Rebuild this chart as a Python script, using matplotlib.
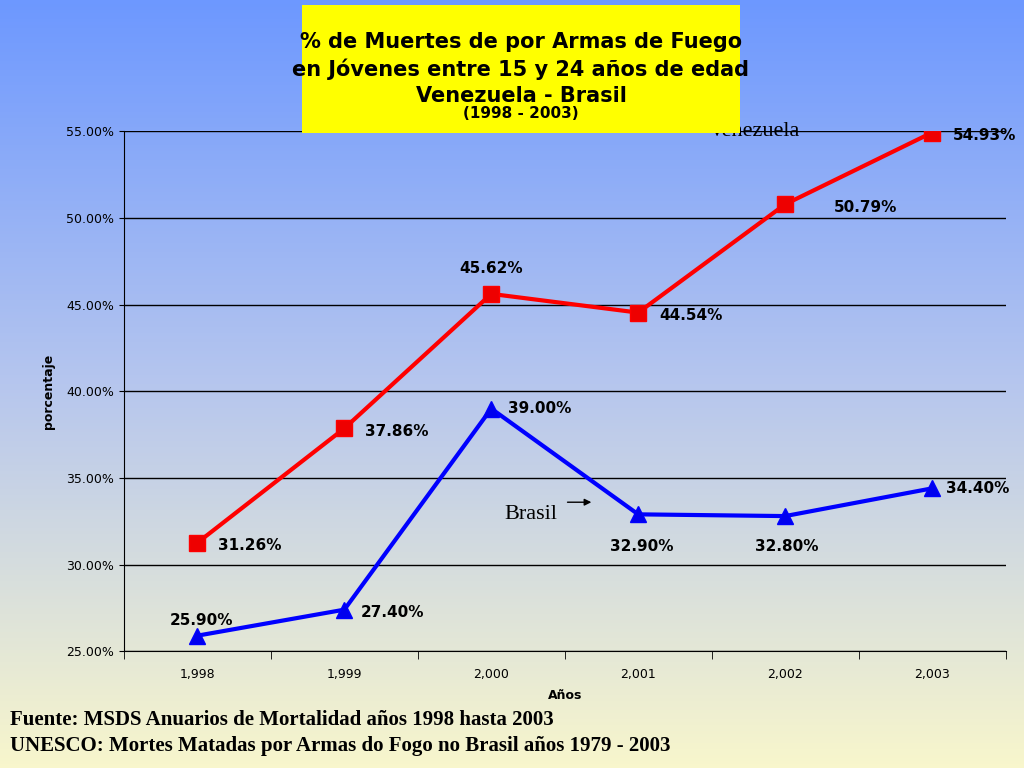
import matplotlib
matplotlib.use("Agg")
import matplotlib.pyplot as plt
import numpy as np
from matplotlib.colors import LinearSegmentedColormap

years = ["1,998", "1,999", "2,000", "2,001", "2,002", "2,003"]
venezuela = [31.26, 37.86, 45.62, 44.54, 50.79, 54.93]
brasil = [25.90, 27.40, 39.00, 32.90, 32.80, 34.40]
yticks = [25, 30, 35, 40, 45, 50, 55]

fig = plt.figure(figsize=(10.24, 7.68), dpi=100)
bg = fig.add_axes([0, 0, 1, 1], zorder=-10)
cmap = LinearSegmentedColormap.from_list("g", ["#f8f6cc", "#b6c6ee", "#6d98ff"])
bg.imshow(np.linspace(0, 1, 256)[::-1].reshape(-1, 1), aspect="auto", cmap=cmap, extent=[0, 1, 0, 1])
bg.axis("off")

ax = fig.add_axes([0.121, 0.152, 0.861, 0.677])
ax.patch.set_alpha(0)
x = np.arange(len(years))
ax.plot(x, venezuela, color="#ff0000", lw=3, marker="s", ms=11, markerfacecolor="#ee0000", zorder=3)
ax.plot(x, brasil, color="#0000ff", lw=3, marker="^", ms=12, markerfacecolor="#0000ee", zorder=3)
ax.set_xlim(-0.5, 5.5)
ax.set_ylim(25, 55)
ax.set_yticks(yticks)
ax.set_yticklabels([f"{v:.2f}%" for v in yticks], fontsize=9)
ax.yaxis.grid(True, color="black", lw=1)
ax.set_axisbelow(True)
ax.set_xticks(x)
ax.set_xticklabels(years, fontsize=9)
ax.tick_params(axis="x", length=0, pad=12)
ax.set_xticks(np.arange(-0.5, 6, 1), minor=True)
ax.tick_params(axis="x", which="minor", length=6)
for s in ["top", "right"]:
    ax.spines[s].set_visible(False)
ax.set_xlabel("Años", fontsize=9, fontweight="bold", labelpad=6)
ax.set_ylabel("porcentaje", fontsize=9, fontweight="bold", labelpad=8)

voff = [(15, -2, "left"), (15, -2, "left"), (0, 18, "center"), (15, -2, "left"), (25, -2, "left"), (15, -2, "left")]
for i, v in enumerate(venezuela):
    dx, dy, ha = voff[i]
    if i == 4:
        dx, dy = 35, -2
    ax.annotate(f"{v:.2f}%", (i, v), xytext=(dx, dy), textcoords="offset points",
                ha=ha, va="center", fontsize=11, fontweight="bold")
boff = [(-20, 11, "left"), (12, -2, "left"), (12, 0, "left"), (-20, -23, "left"), (-22, -22, "left"), (10, 0, "left")]
for i, v in enumerate(brasil):
    dx, dy, ha = boff[i]
    ax.annotate(f"{v:.2f}%", (i, v), xytext=(dx, dy), textcoords="offset points",
                ha=ha, va="center", fontsize=11, fontweight="bold")

ax.annotate("", xy=(4.65, 55.8), xytext=(4.2, 55.8), arrowprops=dict(arrowstyle="-|>", color="black", lw=1))
ax.text(4.1, 55, "Venezuela", fontsize=16, family="Liberation Serif", ha="right", va="center")
ax.annotate("", xy=(2.7, 33.6), xytext=(2.5, 33.6), arrowprops=dict(arrowstyle="-|>", color="black", lw=1))
ax.text(2.45, 32.9, "Brasil", fontsize=16, family="Liberation Serif", ha="right", va="center")

fig.patches.append(plt.Rectangle((302/1024, 1-133/768), 438/1024, 128/768, transform=fig.transFigure,
                                 facecolor="#ffff00", edgecolor="none", zorder=5))
fig.text(521/1024, 1-69/768, "% de Muertes de por Armas de Fuego\nen Jóvenes entre 15 y 24 años de edad\nVenezuela - Brasil",
         ha="center", va="center", fontsize=15, fontweight="bold", linespacing=1.35, zorder=6)
fig.text(521/1024, 1-113/768, "(1998 - 2003)", ha="center", va="center", fontsize=11, fontweight="bold", zorder=6)

fig.text(10/1024, 1-720/768, "Fuente: MSDS Anuarios de Mortalidad años 1998 hasta 2003", fontsize=15,
         fontweight="bold", family="Liberation Serif", va="center")
fig.text(10/1024, 1-746/768, "UNESCO: Mortes Matadas por Armas do Fogo no Brasil años 1979 - 2003", fontsize=15,
         fontweight="bold", family="Liberation Serif", va="center")

fig.savefig("out.png", dpi=100)
